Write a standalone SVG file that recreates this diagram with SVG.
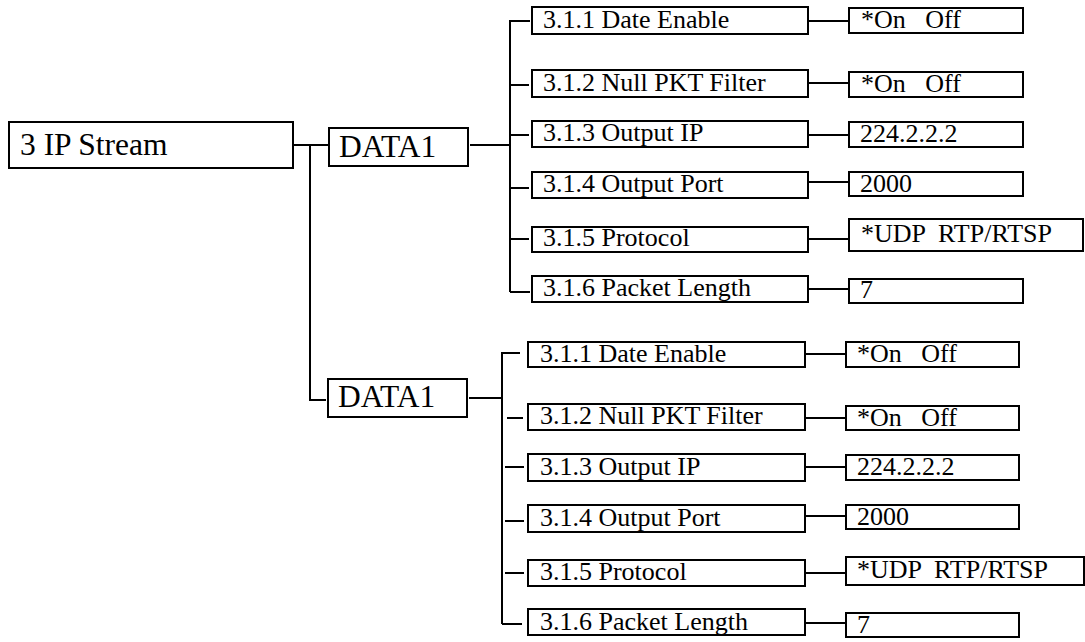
<svg xmlns="http://www.w3.org/2000/svg" width="1085" height="642" viewBox="0 0 1085 642">
<style>
rect{fill:#fff;stroke:#000;stroke-width:2}
.c path{fill:none;stroke:#000;stroke-width:2}
text{fill:#000;white-space:pre}
.big{font-size:31.5px}
.it{font-size:26px}
</style>
<rect x="0" y="0" width="1085" height="642" style="stroke:none"/>
<g class="c" id="connectors">
<path d="M293 145H328M310 145V400H326"/>
<path d="M470 145H510M510 292V21H530M510 85H529M510 135H529M510 188H529M510 239H529M510 292H530"/>
<path d="M808 21H849M808 83H849M808 135H849M808 182H849M808 239H849M808 289H849"/>
<path d="M469 398H502M502 624V353H520M507 418H523M505 467H524M505 521H524M505 573H524M502 624H522"/>
<path d="M805 354H846M805 418H846M805 467H846M805 516H846M805 573H846M805 623H846"/>
</g>
<g font-family="Liberation Serif, Tinos, DejaVu Serif, serif">
<g id="root"><rect x="9" y="122" width="284" height="46"/><text class="big" x="20" y="155">3 IP Stream</text></g>
<g id="data1a"><rect x="329" y="128" width="139" height="38"/><text class="big" x="339" y="157">DATA1</text></g>
<g id="data1b"><rect x="328" y="379" width="139" height="38"/><text class="big" x="338" y="407">DATA1</text></g>

<g id="a1"><rect x="532" y="7" width="276" height="27"/><text class="it" x="543" y="28">3.1.1 Date Enable</text></g>
<g id="a2"><rect x="532" y="70" width="276" height="27"/><text class="it" x="543" y="91">3.1.2 Null PKT Filter</text></g>
<g id="a3"><rect x="532" y="121" width="276" height="26"/><text class="it" x="543" y="141">3.1.3 Output IP</text></g>
<g id="a4"><rect x="532" y="172" width="276" height="26"/><text class="it" x="543" y="192">3.1.4 Output Port</text></g>
<g id="a5"><rect x="532" y="227" width="276" height="25"/><text class="it" x="543" y="246">3.1.5 Protocol</text></g>
<g id="a6"><rect x="532" y="276" width="276" height="26"/><text class="it" x="543" y="296">3.1.6 Packet Length</text></g>

<g id="av1"><rect x="849" y="8" width="174" height="25"/><text class="it" x="861" y="28">*On   Off</text></g>
<g id="av2"><rect x="849" y="72" width="174" height="25"/><text class="it" x="861" y="92">*On   Off</text></g>
<g id="av3"><rect x="849" y="122" width="174" height="25"/><text class="it" x="860" y="142">224.2.2.2</text></g>
<g id="av4"><rect x="849" y="172" width="174" height="24"/><text class="it" x="860" y="192">2000</text></g>
<g id="av5"><rect x="849" y="219" width="234" height="32"/><text class="it" x="861" y="242">*UDP  RTP/RTSP</text></g>
<g id="av6"><rect x="849" y="279" width="174" height="24"/><text class="it" x="860" y="298">7</text></g>

<g id="b1"><rect x="528" y="342" width="277" height="25"/><text class="it" x="540" y="362">3.1.1 Date Enable</text></g>
<g id="b2"><rect x="528" y="404" width="277" height="26"/><text class="it" x="540" y="424">3.1.2 Null PKT Filter</text></g>
<g id="b3"><rect x="528" y="454" width="277" height="27"/><text class="it" x="540" y="475">3.1.3 Output IP</text></g>
<g id="b4"><rect x="528" y="505" width="277" height="27"/><text class="it" x="540" y="526">3.1.4 Output Port</text></g>
<g id="b5"><rect x="528" y="560" width="277" height="26"/><text class="it" x="540" y="580">3.1.5 Protocol</text></g>
<g id="b6"><rect x="528" y="609" width="277" height="26"/><text class="it" x="540" y="630">3.1.6 Packet Length</text></g>

<g id="bv1"><rect x="846" y="342" width="173" height="25"/><text class="it" x="857" y="362">*On   Off</text></g>
<g id="bv2"><rect x="846" y="406" width="173" height="24"/><text class="it" x="857" y="426">*On   Off</text></g>
<g id="bv3"><rect x="846" y="455" width="173" height="25"/><text class="it" x="857" y="475">224.2.2.2</text></g>
<g id="bv4"><rect x="846" y="505" width="173" height="24"/><text class="it" x="857" y="525">2000</text></g>
<g id="bv5"><rect x="846" y="557" width="238" height="28"/><text class="it" x="857" y="578">*UDP  RTP/RTSP</text></g>
<g id="bv6"><rect x="846" y="613" width="173" height="24"/><text class="it" x="857" y="633">7</text></g>
</g>
</svg>
